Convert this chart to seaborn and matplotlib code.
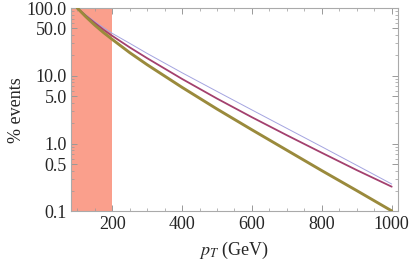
import numpy as np
import pandas as pd
import matplotlib
matplotlib.use("Agg")
import matplotlib.pyplot as plt
import seaborn as sns
from matplotlib.ticker import FixedLocator, MultipleLocator, LogLocator, NullFormatter

# data
pt = [100, 125, 150, 175, 200, 250, 300, 400, 500, 600, 700, 800, 900, 1000]
blue = [100, 79, 63, 51.5, 42.3, 30.2, 21.4, 11.1, 5.89, 3.14, 1.68, 0.90, 0.479, 0.254]
purple = [100, 76.7, 60.3, 47.9, 38.9, 26.3, 18.2, 9.0, 4.62, 2.45, 1.33, 0.733, 0.407, 0.232]
olive = [100, 74, 56, 43.5, 34.5, 22.0, 14.6, 6.76, 3.24, 1.60, 0.80, 0.40, 0.203, 0.102]
series_names = ["A", "B", "C"]
cut_pt = 200

ytick_vals = [0.1, 0.5, 1.0, 5.0, 10.0, 50.0, 100.0]
ytick_labels = ["0.1", "0.5", "1.0", "5.0", "10.0", "50.0", "100.0"]
xtick_vals = [200, 400, 600, 800, 1000]

df = pd.concat([
    pd.DataFrame({"pt": pt, "val": v, "series": n})
    for v, n in zip([blue, purple, olive], series_names)
])

sns.set_style("ticks")
plt.rcParams["font.family"] = ["Liberation Serif", "DejaVu Serif"]
plt.rcParams["mathtext.fontset"] = "stix"

fig = plt.figure(figsize=(4.15, 2.67), dpi=100)
ax = fig.add_axes([0.171, 0.208, 0.788, 0.762])

ax.axvspan(60, cut_pt, color="#fa9f8c", lw=0, zorder=0)

palette = {"A": "#a4a4e0", "B": "#a3406e", "C": "#9a8a3c"}
widths = {"A": 0.7, "B": 1.3, "C": 2.1}
for n in series_names:
    sns.lineplot(data=df[df.series == n], x="pt", y="val", color=palette[n],
                 lw=widths[n], ax=ax, legend=False, zorder=3)

ax.set_yscale("log")
ax.set_xlim(82, 1018)
ax.set_ylim(0.1, 100)

ax.yaxis.set_major_locator(FixedLocator(ytick_vals))
ax.set_yticklabels(ytick_labels)
ax.yaxis.set_minor_locator(LogLocator(base=10, subs=[2, 3, 4, 6, 7, 8, 9]))
ax.yaxis.set_minor_formatter(NullFormatter())
ax.xaxis.set_major_locator(FixedLocator(xtick_vals))
ax.xaxis.set_minor_locator(MultipleLocator(50))

for s in ax.spines.values():
    s.set_color("#aaaaaa")
    s.set_linewidth(0.8)
ax.tick_params(which="both", direction="in", top=True, right=True,
               color="#999999", labelsize=13, pad=3)
ax.tick_params(which="major", length=4, width=0.7)
ax.tick_params(which="minor", length=2, width=0.5)

ax.set_xlabel("$p_T$ (GeV)", fontsize=13, labelpad=5)
ax.set_ylabel("% events", fontsize=13, labelpad=1)

fig.savefig("out.png", dpi=100)
